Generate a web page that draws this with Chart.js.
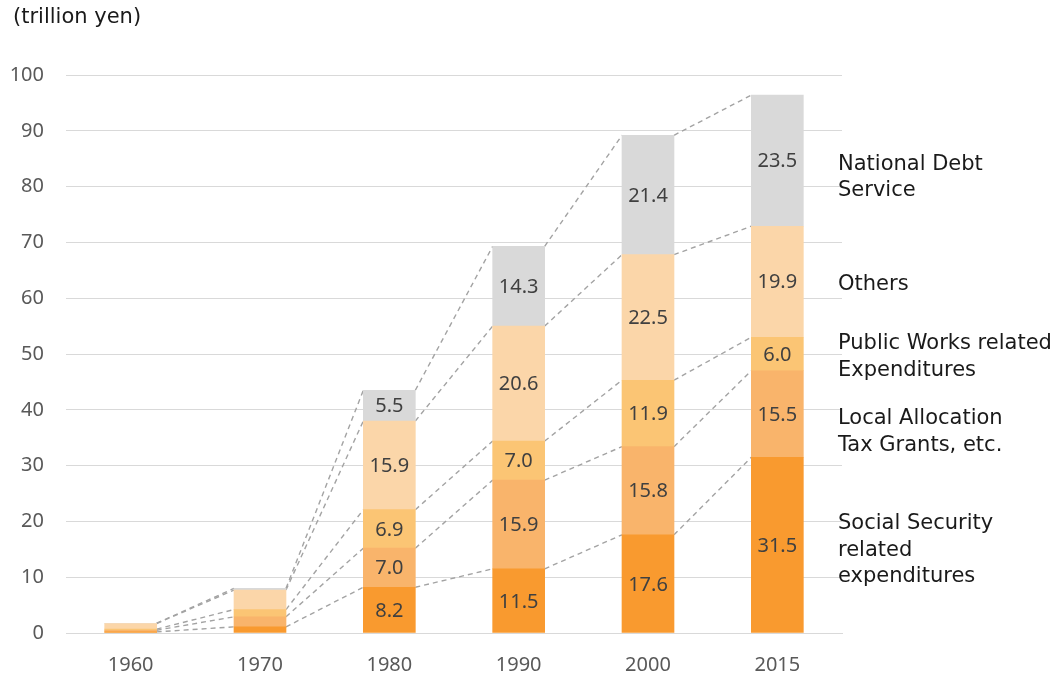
<!DOCTYPE html>
<html><head><meta charset="utf-8">
<script src="https://cdn.jsdelivr.net/npm/chart.js@4"></script>
<style>html,body{margin:0;padding:0;background:#fff}#wrap{width:1064px;height:679px;position:relative}</style>
</head><body><div id="wrap"><canvas id="c" width="1064" height="679"></canvas></div>
<script>
const years = ['1960','1970','1980','1990','2000','2015'];
const socialSecurity = [0.2, 1.1, 8.2, 11.5, 17.6, 31.5];
const localAllocation = [0.3, 1.8, 7.0, 15.9, 15.8, 15.5];
const publicWorks = [0.2, 1.3, 6.9, 7.0, 11.9, 6.0];
const others = [1.0, 3.5, 15.9, 20.6, 22.5, 19.9];
const debtService = [0.05, 0.3, 5.5, 14.3, 21.4, 23.5];
const seriesNames = [['Social Security','related','expenditures'],['Local Allocation','Tax Grants, etc.'],['Public Works related','Expenditures'],['Others'],['National Debt','Service']];
const yTicks = [0,10,20,30,40,50,60,70,80,90,100];

const colors = ['#F99A2F','#F9B46B','#FBC574','#FBD6A9','#D9D9D9'];
const seriesData = [socialSecurity, localAllocation, publicWorks, others, debtService];
const NUMFONT = '"Noto Sans", sans-serif';
const TXTFONT = '"DejaVu Sans", sans-serif';

const labelYOffsets = [5, 18, 3, 3, 17]; // px shifts of right-hand labels

const overlay = {
  id: 'overlay',
  beforeDatasetsDraw(chart) {
    const ctx = chart.ctx, y = chart.scales.y;
    const metas = chart.data.datasets.map((d, i) => chart.getDatasetMeta(i));
    ctx.save();
    ctx.strokeStyle = '#A3A3A3';
    ctx.lineWidth = 1.4;
    ctx.setLineDash([5, 4]);
    for (let i = 0; i < years.length - 1; i++) {
      const b0 = metas[0].data[i], b1 = metas[0].data[i + 1];
      const x0 = b0.x + b0.width / 2, x1 = b1.x - b1.width / 2;
      let c0 = 0, c1 = 0;
      for (let s = 0; s < seriesData.length; s++) {
        c0 += seriesData[s][i]; c1 += seriesData[s][i + 1];
        ctx.beginPath();
        ctx.moveTo(x0, y.getPixelForValue(c0));
        ctx.lineTo(x1, y.getPixelForValue(c1));
        ctx.stroke();
      }
    }
    ctx.restore();
  },
  afterDatasetsDraw(chart) {
    const ctx = chart.ctx, y = chart.scales.y;
    const metas = chart.data.datasets.map((d, i) => chart.getDatasetMeta(i));
    ctx.save();
    ctx.font = '20px ' + NUMFONT;
    ctx.fillStyle = '#404040';
    ctx.textAlign = 'center';
    ctx.textBaseline = 'middle';
    for (let i = 2; i < years.length; i++) {
      let c = 0;
      for (let s = 0; s < seriesData.length; s++) {
        const v = seriesData[s][i];
        const mid = c + v / 2; c += v;
        ctx.fillText(v.toFixed(1), metas[s].data[i].x, y.getPixelForValue(mid) + 1);
      }
    }
    const last = years.length - 1;
    ctx.font = '21px ' + TXTFONT;
    ctx.fillStyle = '#1a1a1a';
    ctx.textAlign = 'left';
    let c = 0;
    for (let s = 0; s < seriesData.length; s++) {
      const v = seriesData[s][last];
      const mid = y.getPixelForValue(c + v / 2) + labelYOffsets[s]; c += v;
      const lines = seriesNames[s];
      const lh = 26.5;
      lines.forEach((t, k) => ctx.fillText(t, 838, mid + (k - (lines.length - 1) / 2) * lh));
    }
    ctx.textBaseline = 'middle';
    ctx.fillText('(trillion yen)', 13, 18);
    ctx.restore();
  }
};

new Chart(document.getElementById('c'), {
  type: 'bar',
  data: {
    labels: years,
    datasets: seriesData.map((d, i) => ({
      label: seriesNames[i].join(' '),
      data: d,
      backgroundColor: colors[i],
      borderWidth: 0,
      barThickness: 52
    }))
  },
  options: {
    responsive: false,
    animation: false,
    layout: { padding: { top: 75, right: 222, left: 0, bottom: 0 } },
    plugins: { legend: { display: false }, tooltip: { enabled: false } },
    scales: {
      x: {
        stacked: true,
        grid: { display: false, drawTicks: false },
        border: { color: '#D9D9D9', width: 1 },
        ticks: { color: '#595959', font: { size: 20, family: NUMFONT }, padding: 20 },
        afterFit(s) { s.height = 46; }
      },
      y: {
        stacked: true,
        min: 0, max: 100,
        afterBuildTicks(s) { s.ticks = yTicks.map(v => ({ value: v })); },
        grid: { color: '#D9D9D9', drawTicks: false, lineWidth: 1 },
        border: { display: false },
        ticks: { color: '#595959', font: { size: 20, family: NUMFONT }, padding: 22 },
        afterFit(s) { s.width = 66; }
      }
    }
  },
  plugins: [overlay]
});
</script></body></html>
